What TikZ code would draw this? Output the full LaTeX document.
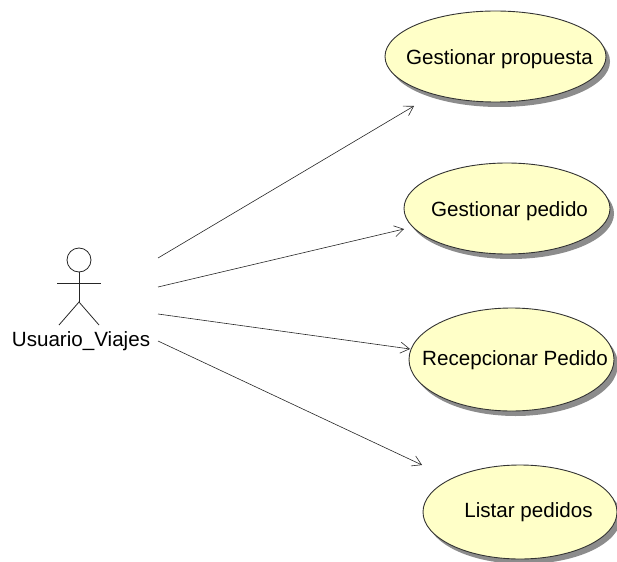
\documentclass[tikz,border=0pt]{standalone}
\usepackage{fontspec}
\setmainfont{Liberation Sans}
\usetikzlibrary{
	arrows.meta,
	shapes.geometric,
	shadows,
	calc
}
\tikzset{
	usecase/.style={
		ellipse,
		draw=black!80,
		fill={rgb,255:red,255;green,255;blue,200},
		line width=.9pt,
		inner sep=0pt,
		drop shadow={shadow xshift=4pt,shadow yshift=-5pt,fill=black!50,opacity=.9}
	},
	casetext/.style={
		font=\fontsize{20.6}{24}\selectfont,
		anchor=base
	},
	actorline/.style={
		black!85,
		line width=.8pt
	},
	assoc/.style={
		black!85,
		line width=.6pt,
		-{Straight Barb[length=9pt,width=11pt,line width=.6pt]}
	}
}

\begin{document}
\begin{tikzpicture}[x=1pt,y=-1pt]
	\useasboundingbox (0,0) rectangle (617,561);
	\clip (0,0) rectangle (617,561);
	%casos de uso
	\node [usecase, minimum width=221pt, minimum height=91pt] (propuesta) at (495.5,56.5) {};
	\node [usecase, minimum width=206pt, minimum height=91pt] (gestionar) at (507,208.5) {};
	\node [usecase, minimum width=205pt, minimum height=103pt] (recepcionar) at (511.5,359.5) {};
	\node [usecase, minimum width=194pt, minimum height=94pt] (listar) at (520,512) {};
	\node [casetext] (propuestatxt) at (499.5,65) {Gestionar propuesta};
	\node [casetext] (gestionartxt) at (509.5,216) {Gestionar pedido};
	\node [casetext] (recepcionartxt) at (515,365) {Recepcionar Pedido};
	\node [casetext] (listartxt) at (528.5,517) {Listar pedidos};
	%actor
	\node [circle, draw, actorline, minimum size=24pt, inner sep=0pt] (cabeza) at (79,260) {};
	\coordinate (cadera) at (79,302);
	\coordinate (brazoizq) at (57,283);
	\coordinate (brazoder) at (101,283);
	\coordinate (pieizq) at (59,325);
	\coordinate (pieder) at (99,325);
	\draw [actorline] (cabeza.south) -- (cadera);
	\draw [actorline] (brazoizq) -- (brazoder);
	\draw [actorline] (pieizq) -- (cadera) -- (pieder);
	\node [casetext] (usuario) at (81,346) {Usuario\_Viajes};
	%asociaciones
	\coordinate (a1) at (158,258);
	\coordinate (a2) at (158,287);
	\coordinate (a3) at (158,314);
	\coordinate (a4) at (158,341);
	\coordinate (b1) at (414,106);
	\coordinate (b2) at (404,229);
	\coordinate (b3) at (410,349);
	\coordinate (b4) at (422,465);
	\draw [assoc] (a1) -- (b1);
	\draw [assoc] (a2) -- (b2);
	\draw [assoc] (a3) -- (b3);
	\draw [assoc] (a4) -- (b4);
\end{tikzpicture}
\end{document}
